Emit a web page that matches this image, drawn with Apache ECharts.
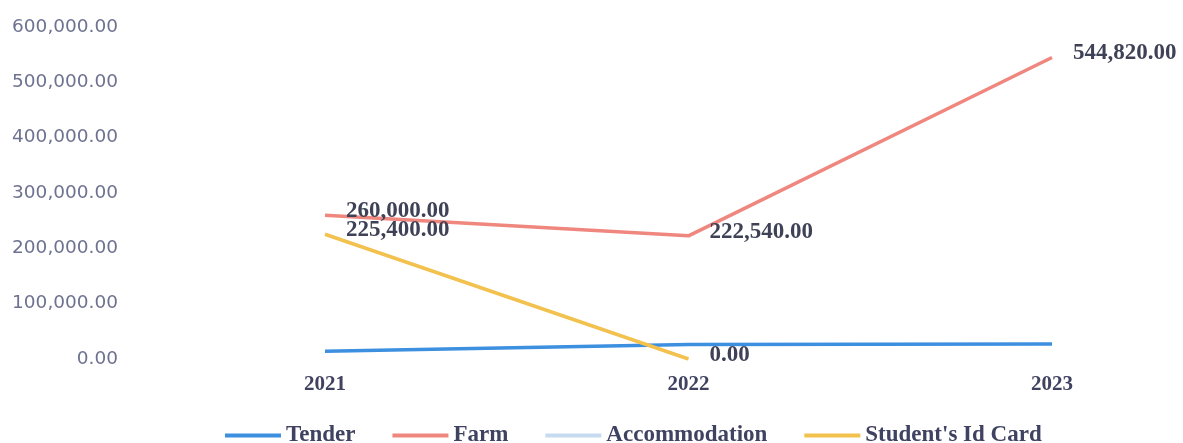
<!DOCTYPE html>
<html>
<head>
<meta charset="utf-8">
<title>Income by year</title>
<script src="https://cdn.jsdelivr.net/npm/echarts@6/dist/echarts.min.js"></script>
<style>
  html, body { margin: 0; padding: 0; background: #fff; }
  #main { width: 1183px; height: 443px; }
</style>
</head>
<body>
<div id="main"></div>
<script>
// data
const years = ["2021", "2022", "2023"];
const tender = [14000, 26000, 27000];
const farm = [260000, 222540, 544820];
const accommodation = [null, null, null];
const studentIdCard = [225400, 0, null];
const yTicks = [0, 100000, 200000, 300000, 400000, 500000, 600000];

const fmt = v =>
  Number(v).toLocaleString("en-US", { minimumFractionDigits: 2, maximumFractionDigits: 2 });

const labelOption = {
  show: true,
  position: "right",
  distance: 21,
  offset: [0, -4],
  fontFamily: "Liberation Serif",
  fontWeight: "bold",
  fontSize: 23,
  color: "#3f4256",
  formatter: p => fmt(p.value)
};

// invisible points so the labels still get drawn
const lineSeries = (name, data, color, label) => ({
  name: name,
  type: "line",
  data: data,
  symbol: "circle",
  symbolSize: 0,
  showSymbol: true,
  color: color,
  lineStyle: { width: 3.5 },
  label: label || { show: false }
});

var myChart = echarts.init(document.getElementById("main"));
myChart.setOption({
  animation: false,
  grid: { left: 325, right: 131, top: 27, bottom: 84 },
  legend: {
    top: 419,
    left: 220,
    icon: "rect",
    itemWidth: 56,
    itemHeight: 4,
    itemGap: 37,
    textStyle: {
      fontFamily: "Liberation Serif",
      fontWeight: "bold",
      fontSize: 23,
      color: "#3f4260"
    },
    data: ["Tender", "Farm", "Accommodation", "Student's Id Card"]
  },
  xAxis: {
    type: "category",
    data: years,
    boundaryGap: false,
    axisLine: { show: false },
    axisTick: { show: false },
    axisLabel: {
      margin: 15,
      fontFamily: "Liberation Serif",
      fontWeight: "bold",
      fontSize: 21,
      color: "#3f4260"
    }
  },
  yAxis: {
    type: "value",
    min: yTicks[0],
    max: yTicks[yTicks.length - 1],
    interval: yTicks[1] - yTicks[0],
    axisLine: { show: false },
    axisTick: { show: false },
    splitLine: { show: false },
    axisLabel: {
      margin: 207,
      fontFamily: "DejaVu Sans",
      fontSize: 18.5,
      color: "#6d7290",
      formatter: v => fmt(v)
    }
  },
  series: [
    lineSeries("Tender", tender, "#3d8fe0"),
    lineSeries("Farm", farm, "#ef877f", labelOption),
    lineSeries("Accommodation", accommodation, "#c6dbef"),
    lineSeries("Student's Id Card", studentIdCard, "#f2c14e", labelOption)
  ]
});
</script>
</body>
</html>
